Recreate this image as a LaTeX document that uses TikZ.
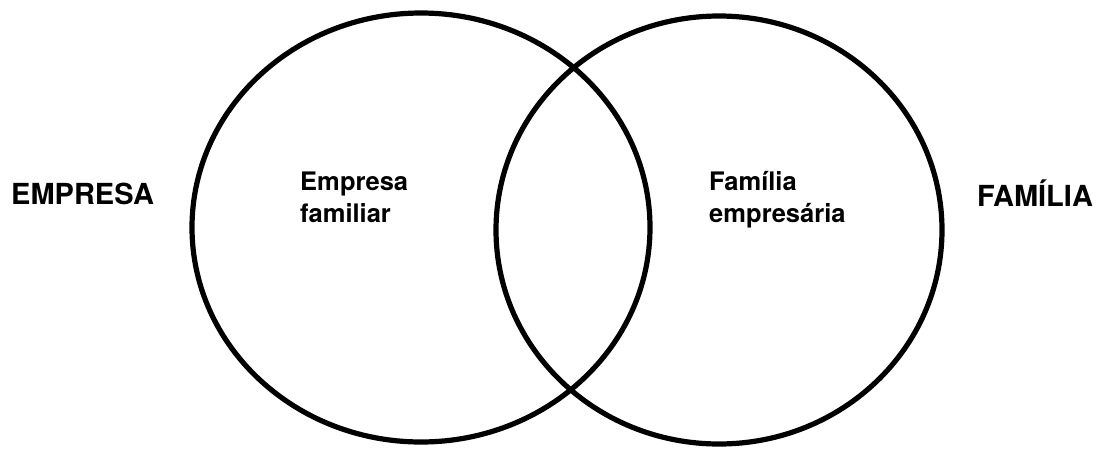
\documentclass[tikz,border=0pt]{standalone}
\usepackage{fontspec}
\setmainfont{TeX Gyre Heros}
\tikzset{%
  venn ring/.style={draw=black,line width=5.2pt},
  outer label/.style={inner sep=0pt,font=\bfseries\fontsize{29}{35}\selectfont},
  inner label/.style={inner sep=0pt,align=left,font=\bfseries\fontsize{25.5}{32}\selectfont},
}
\newcommand{\VennData}{
  \coordinate (Lc) at (421,227.5);% centre of left ring
  \coordinate (Rc) at (719,230);% centre of right ring
}
\begin{document}
\begin{tikzpicture}[x=1pt,y=-1pt]
  \useasboundingbox (0,0) rectangle (1099,448);
  \VennData% makes coordinates available
  % the two rings
  \draw [venn ring] (Lc) ellipse [x radius=229,y radius=214.5];
  \draw [venn ring] (Rc) ellipse [x radius=223,y radius=214];
  % labels
  \node [outer label,anchor=base west] (empresa) at (11,204) {EMPRESA};
  \node [outer label,anchor=base west] (familia) at (977,206) {FAMÍLIA};
  \node [inner label,anchor=base west] (empfam) at (300,222) {Empresa\\familiar};
  \node [inner label,anchor=base west] (famemp) at (709,222) {Família\\empresária};
\end{tikzpicture}
\end{document}
